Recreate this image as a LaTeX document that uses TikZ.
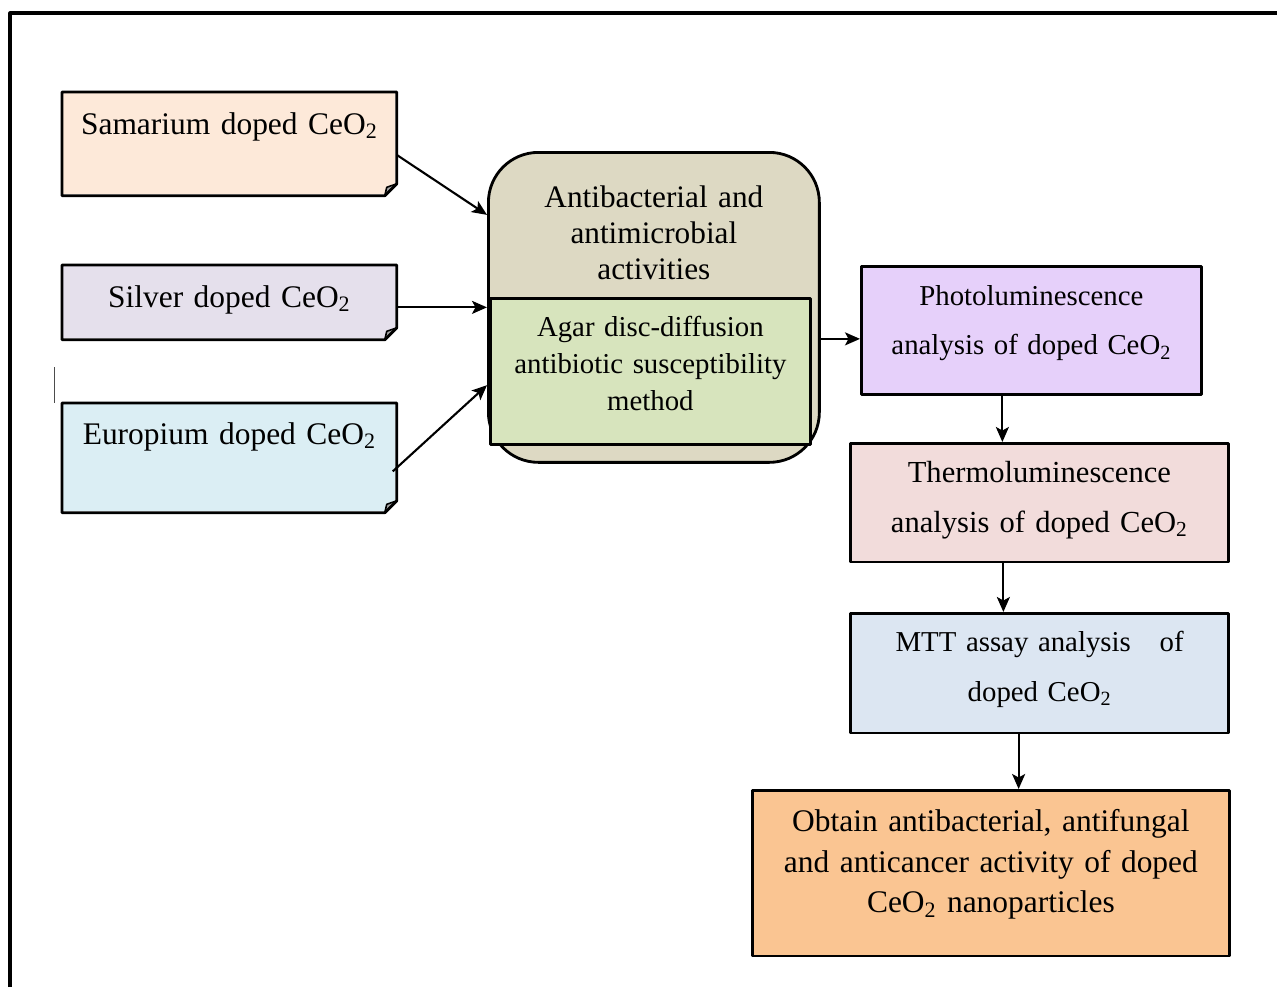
\documentclass[tikz,border=0pt]{standalone}
\usepackage{fontspec}
\setmainfont{Liberation Serif}
\usetikzlibrary{arrows.meta}
\usetikzlibrary{calc}
\definecolor{peach}{HTML}{FDE9D9}
\definecolor{lilac}{HTML}{E5E0EC}
\definecolor{iceblue}{HTML}{DBEEF4}
\definecolor{khaki}{HTML}{DDD9C3}
\definecolor{sage}{HTML}{D7E4BD}
\definecolor{lavender}{HTML}{E6D0FA}
\definecolor{rose}{HTML}{F2DCDB}
\definecolor{steel}{HTML}{DCE6F2}
\definecolor{apricot}{HTML}{FAC592}

% folded corner of a note box
\newcommand{\dogear}[1]{%
  \fill[white] ([yshift=0.24cm]#1.south east) -- (#1.south east) -- ([xshift=-0.24cm]#1.south east) -- cycle;
  \fill[gray!70] ([yshift=0.24cm]#1.south east) -- ([xshift=-0.24cm]#1.south east) -- ([shift={(-0.2cm,0.17cm)}]#1.south east) -- cycle;
  \draw[boxline] (#1.north west) -- (#1.north east) -- ([yshift=0.24cm]#1.south east) -- ([xshift=-0.24cm]#1.south east) -- (#1.south west) -- cycle;
  \draw[line width=0.9pt] ([yshift=0.24cm]#1.south east) -- ([shift={(-0.2cm,0.17cm)}]#1.south east) -- ([xshift=-0.24cm]#1.south east);
}

\begin{document}
\begin{tikzpicture}[x=0.02cm,y=-0.02cm,line join=round,>={Stealth[length=0.3cm,width=0.26cm,inset=0.07cm]},
  boxline/.style={draw=black,line width=1.6pt},
  box/.style={boxline,inner sep=0pt,anchor=north west,align=center},
  bigtxt/.style={font=\fontsize{17.9}{20.5}\selectfont},
  smalltxt/.style={font=\fontsize{16.4}{28.1}\selectfont},
  arr/.style={->,line width=1.2pt}]
\useasboundingbox (0,0) rectangle (1277,987);
% Rahmen
\draw[line width=1.8pt] (10,987) -- (10,13) -- (1277,13);
\draw[line width=0.8pt,gray!60!black] (54.5,367) -- (54.5,403);

% Proben links
\node[box,draw=none,fill=peach,bigtxt,text width=6.64cm,text height=0.814cm,text depth=1.206cm] (sam) at (62,92) {Samarium doped CeO\textsubscript{2}};
\node[box,draw=none,fill=lilac,bigtxt,text width=6.64cm,text height=0.82cm,text depth=0.62cm] (sil) at (62,265) {Silver doped CeO\textsubscript{2}};
\node[box,draw=none,fill=iceblue,bigtxt,text width=6.64cm,text height=0.794cm,text depth=1.346cm] (eur) at (62,403) {Europium doped CeO\textsubscript{2}};
\dogear{sam}
\dogear{sil}
\dogear{eur}

% Aktivitaet
\node[box,fill=khaki,rounded corners=1cm,font=\fontsize{17.8}{20.5}\selectfont,text width=6.62cm,text height=1.094cm,text depth=5.106cm] (act) at (487,151) {Antibacterial and\\ antimicrobial\\ activities};
\node[box,fill=sage,font=\fontsize{16.4}{21.3}\selectfont,text width=6.4cm,text height=0.752cm,text depth=2.168cm] (agar) at (489,297) {Agar disc-diffusion\\ antibiotic susceptibility\\ method};

% Analysen rechts
\node[box,fill=lavender,smalltxt,text width=6.8cm,text height=0.78cm,text depth=1.786cm] (photo) at (860,265) {Photoluminescence\\ analysis of doped CeO\textsubscript{2}};
\node[box,fill=rose,font=\fontsize{17.4}{28.45}\selectfont,text width=7.56cm,text height=0.774cm,text depth=1.6cm] (thermo) at (849,442) {Thermoluminescence\\ analysis of doped CeO\textsubscript{2}};
\node[box,fill=steel,font=\fontsize{16.4}{28.45}\selectfont,text width=7.57cm,text height=0.76cm,text depth=1.634cm] (mtt) at (849,612) {MTT assay analysis~~~of\\ doped CeO\textsubscript{2}};
\node[box,fill=apricot,font=\fontsize{17.9}{23.3}\selectfont,text width=9.54cm,text height=0.814cm,text depth=2.5cm] (obt) at (751,789) {Obtain antibacterial, antifungal\\ and anticancer activity of doped\\ CeO\textsubscript{2} nanoparticles};

% Pfeile
\draw[arr] ([yshift=-0.22cm]sam.east) -- (act.151);
\draw[arr] (sil.east |- act.west) -- (act.west);
\draw[arr] ([shift={(-0.08cm,-0.27cm)}]eur.east) -- (act.205);
\draw[arr] ([yshift=-0.63cm]act.east) -- ([yshift=-0.63cm]act.east -| photo.west);
\draw[arr] ([xshift=-0.58cm]photo.south) -- ([xshift=-0.58cm]photo.south |- thermo.north);
\draw[arr] ([xshift=-0.72cm]thermo.south) -- ([xshift=-0.72cm]thermo.south |- mtt.north);
\draw[arr] ([xshift=-0.42cm]mtt.south) -- ([xshift=-0.42cm]mtt.south |- obt.north);
\end{tikzpicture}
\end{document}
